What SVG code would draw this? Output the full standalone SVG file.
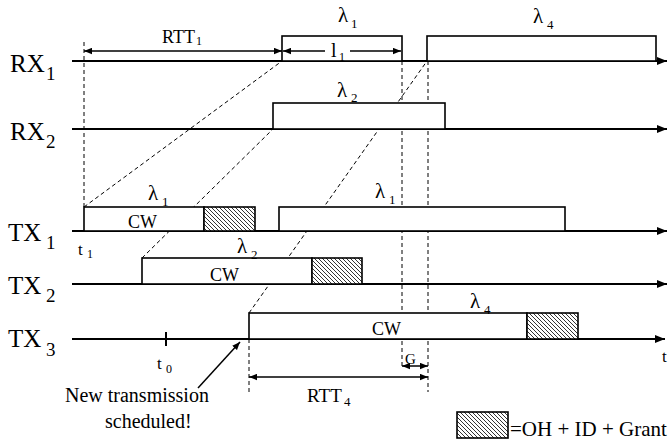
<svg xmlns="http://www.w3.org/2000/svg" width="668" height="445" viewBox="0 0 668 445" font-family="'Liberation Serif', 'DejaVu Serif', 'Times New Roman', serif">
<style>
text{font-family:"Liberation Serif","DejaVu Serif","Times New Roman",serif;fill:#000}
.lab{font-size:25px}
.sub{font-size:19px}
.lam{font-size:21px}
.lsub{font-size:13px}
.cw{font-size:18px}
.axis{stroke:#000;stroke-width:2;fill:none}
.box{stroke:#000;stroke-width:1.6;fill:#fff}
.hatch{stroke:#000;stroke-width:1.6;fill:url(#hp)}
.dash{stroke:#000;stroke-width:1;stroke-dasharray:4,3;fill:none}
.arr{stroke:#000;stroke-width:1.5;fill:none}
</style>
<defs>
<pattern id="hp" patternUnits="userSpaceOnUse" width="4" height="4">
<rect width="4" height="4" fill="#fff"/>
<path d="M0,0 L4,4 M-1,3 L1,5 M3,-1 L5,1" stroke="#000" stroke-width="0.8"/>
</pattern>
<marker id="ax" viewBox="0 0 10 8" refX="10" refY="4" markerWidth="10" markerHeight="8" markerUnits="userSpaceOnUse" orient="auto">
<path d="M0,0 L10,4 L0,8 z" fill="#000"/>
</marker>
<marker id="ah" viewBox="0 0 10 8" refX="10" refY="4" markerWidth="8" markerHeight="7" markerUnits="userSpaceOnUse" orient="auto-start-reverse">
<path d="M0,0 L10,4 L0,8 z" fill="#000"/>
</marker>
</defs>

<g id="connectors">
<line class="dash" x1="84" y1="207" x2="282" y2="61"/>
<line class="dash" x1="142" y1="258" x2="273" y2="129"/>
<line class="dash" x1="249" y1="313" x2="427" y2="61"/>
<line class="dash" x1="84" y1="42" x2="84" y2="207"/>
<line class="dash" x1="402" y1="61" x2="402" y2="368"/>
<line class="dash" x1="428" y1="61" x2="428" y2="392"/>
<line class="dash" x1="249" y1="339" x2="249" y2="392"/>
<line class="axis" x1="72" y1="61" x2="667" y2="61" marker-end="url(#ax)"/>
<line class="axis" x1="72" y1="129" x2="667" y2="129" marker-end="url(#ax)"/>
<line class="axis" x1="72" y1="231" x2="667" y2="231" marker-end="url(#ax)"/>
<line class="axis" x1="72" y1="284" x2="667" y2="284" marker-end="url(#ax)"/>
<line class="axis" x1="72" y1="339" x2="665" y2="339" marker-end="url(#ax)"/>
<line class="axis" x1="166" y1="332" x2="166" y2="346"/>
<line class="arr" x1="84" y1="51" x2="282" y2="51" marker-start="url(#ah)" marker-end="url(#ah)"/>
<line class="arr" x1="249" y1="377" x2="428" y2="377" marker-start="url(#ah)" marker-end="url(#ah)"/>
<line class="arr" x1="402" y1="366" x2="428" y2="366" marker-start="url(#ah)" marker-end="url(#ah)"/>
<line class="arr" x1="198" y1="388" x2="240" y2="342" marker-end="url(#ah)"/>
</g>

<g id="rx1">
<text class="lab" x="10" y="72">RX</text><text class="sub" x="46" y="80">1</text>
</g>
<g id="rx2">
<text class="lab" x="10" y="140">RX</text><text class="sub" x="46" y="148">2</text>
</g>
<g id="tx1">
<text class="lab" x="8" y="241">TX</text><text class="sub" x="46" y="249">1</text>
</g>
<g id="tx2">
<text class="lab" x="8" y="294">TX</text><text class="sub" x="46" y="302">2</text>
</g>
<g id="tx3">
<text class="lab" x="8" y="347">TX</text><text class="sub" x="46" y="356">3</text>
</g>

<g id="rx1-lambda1">
<rect class="box" x="282" y="36" width="120" height="25"/>
<text class="lam" x="338" y="22">λ</text><text class="lsub" x="351" y="28">1</text>
<line class="arr" x1="325" y1="51" x2="283" y2="51" marker-end="url(#ah)"/>
<line class="arr" x1="350" y1="51" x2="401" y2="51" marker-end="url(#ah)"/>
<text x="331" y="57" font-size="20">l</text><text x="339" y="61" font-size="12">1</text>
</g>
<g id="rx1-lambda4">
<rect class="box" x="427" y="36" width="229" height="25"/>
<text class="lam" x="533" y="23">λ</text><text class="lsub" x="547" y="29">4</text>
</g>
<g id="rx2-lambda2">
<rect class="box" x="273" y="103" width="172" height="26"/>
<text class="lam" x="337" y="97">λ</text><text class="lsub" x="351" y="102">2</text>
</g>

<g id="tx1-cw">
<rect class="box" x="84" y="207" width="120" height="24"/>
<rect class="hatch" x="204" y="207" width="51" height="24"/>
<text class="cw" x="128" y="228">CW</text>
<text class="lam" x="148" y="200">λ</text><text class="lsub" x="162" y="206">1</text>
<text x="78" y="255" font-size="17">t</text><text x="87" y="258" font-size="12">1</text>
</g>
<g id="tx1-lambda1">
<rect class="box" x="279" y="207" width="286" height="24"/>
<text class="lam" x="375" y="198">λ</text><text class="lsub" x="389" y="204">1</text>
</g>
<g id="tx2-cw">
<rect class="box" x="142" y="258" width="170" height="26"/>
<rect class="hatch" x="312" y="258" width="50" height="26"/>
<text class="cw" x="210" y="281">CW</text>
<text class="lam" x="237" y="253">λ</text><text class="lsub" x="251" y="259">2</text>
</g>
<g id="tx3-cw">
<rect class="box" x="249" y="313" width="278" height="26"/>
<rect class="hatch" x="527" y="313" width="51" height="26"/>
<text class="cw" x="372" y="335">CW</text>
<text class="lam" x="470" y="308">λ</text><text class="lsub" x="484" y="314">4</text>
<text x="157" y="369" font-size="17">t</text><text x="166" y="373" font-size="12">0</text>
</g>

<g id="labels">
<text x="162" y="43" font-size="18">RTT</text><text x="196" y="45" font-size="12">1</text>
<text x="307" y="402" font-size="19">RTT</text><text x="344" y="406" font-size="13">4</text>
<text x="405" y="364" font-size="15">G</text>
<text x="662" y="362" font-size="17">t</text>
<text x="65" y="402" font-size="20">New transmission</text>
<text x="105" y="428" font-size="20">scheduled!</text>
</g>

<g id="legend">
<rect class="hatch" x="457" y="412" width="51" height="26"/>
<text x="510" y="436" font-size="21">=OH + ID + Grant</text>
</g>
</svg>
